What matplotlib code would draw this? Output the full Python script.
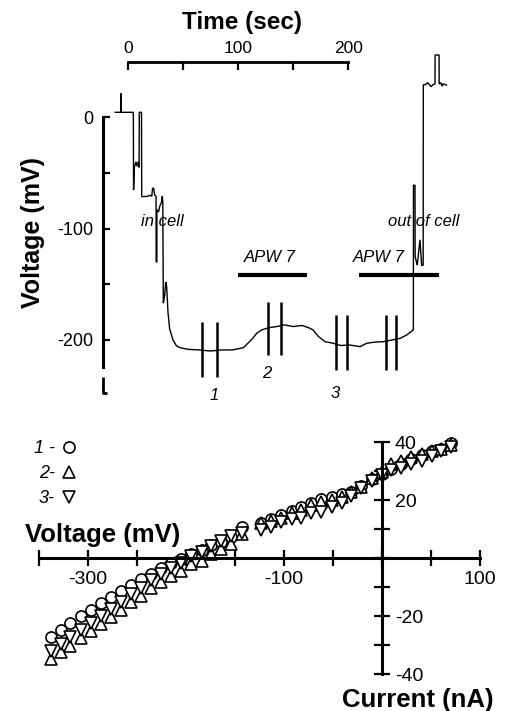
import matplotlib
matplotlib.use("Agg")
import matplotlib.pyplot as plt

plt.rcParams['font.family'] = ['Liberation Sans', 'DejaVu Sans']

# ---------------- top panel data: membrane voltage trace ----------------
trace_t = [-11.4, -6.3, -6.3, -6.2, 5.1, 5.3, 6.0, 7.5, 8.5, 9.5, 10.3, 10.5, 12.5,
           12.7, 18, 20, 21.8, 22.5, 23.5, 24.5, 25.7, 25.8, 26.4, 26.5, 28, 29,
           30.8, 31.3, 31.8, 32.3, 33.5, 34.5, 35.3, 36.5, 38, 41, 44, 47.4, 55,
           65, 75, 85, 95, 100, 104.8, 109, 113, 117, 121.5, 128, 135, 142, 150,
           158, 164, 168, 173, 179, 186.4, 193, 201.5, 210.6, 216.7, 224, 231.7,
           240, 246.9, 252.9, 259, 259.1, 260.5, 260.6, 262.5, 265, 266.5, 267.9,
           268, 270, 272, 274, 275, 277, 278.6, 278.7, 282.3, 282.4, 284, 285, 286, 289]
trace_v = [4.5, 4.5, 21.6, 4.5, 4.5, -65.3, -45, -40, -44, -40, -45, 4.5, 4.5,
           -71.3, -71, -70, -71, -64, -63.5, -70, -71, -130, -130, -83, -85, -80,
           -76, -71, -76, -167, -160, -148, -152, -175, -190, -200, -205, -207, -208.5,
           -209, -210, -209, -209, -208, -207, -203, -199, -194, -191, -189, -188, -186.5, -188,
           -187, -189, -191, -197, -201.6, -203, -205, -204.6, -206, -203, -202, -201.6,
           -200, -198.6, -195.6, -191, -61, -61, -125, -133, -110, -133, -133,
           29, 29.5, 31, 29, 27.5, 29.5, 30, 56, 56, 30, 31, 28, 30, 29]

# I-V measurement periods (double vertical deflections)
iv_times = [67, 80.6, 127, 139, 188.5, 198.5, 233.9, 243]
iv_top = [-183.6, -183.6, -165.6, -165.6, -177.6, -177.6, -177.6, -177.6]
iv_bottom = [-233, -233, -213.5, -213.5, -227, -227, -227, -227]

# APW 7 application periods
apw_start = [100.3, 210.0]
apw_end = [162.3, 282.5]

time_ticks = [0, 50, 100, 150, 200]
time_ticklabels = ['0', '', '100', '', '200']
volt_ticks = [0, -50, -100, -150, -200]
volt_ticklabels = ['0', '', '-100', '', '-200']

# ---------------- bottom panel data: I-V relations ----------------
current = [-338, -328, -318, -307, -297, -287, -276, -266, -256, -246, -236, -225,
           -215, -205, -195, -184, -174, -164, -154, -143, -123, -113, -103, -92,
           -82, -72, -62, -51, -41, -31, -21, -10, 0, 10, 20, 30, 41, 51, 61, 71]
v1 = [-27.2, -24.7, -22.4, -20.0, -17.7, -15.5, -13.5, -11.3, -9.3, -7.3, -5.3, -3.4,
      -1.7, -0.3, 1.4, 2.9, 4.6, 5.7, 7.2, 10.7, 12.3, 13.4, 14.9, 16.3,
      17.8, 19.0, 20.3, 21.2, 22.1, 23.0, 24.9, 27.3, 29.1, 30.8, 32.5, 34.2, 35.6, 36.9, 37.8, 39.7]
v2 = [-34.7, -32.4, -30.1, -27.5, -25.0, -22.7, -20.4, -17.8, -15.2, -12.9, -10.3, -8.3,
      -6.0, -4.3, -2.0, -0.8, 1.5, 3.2, 5.0, 8.3, 12.3, 13.0, 13.8, 15.5,
      16.7, 18.4, 19.5, 20.1, 21.2, 23.0, 24.7, 27.6, 29.9, 32.5, 33.6, 34.8, 36.0, 37.0, 37.6, 39.1]
v3 = [-31.9, -29.6, -27.3, -24.7, -22.2, -19.9, -17.6, -15.0, -12.4, -10.1, -7.5, -5.5,
      -3.2, -1.5, 0.8, 2.0, 4.3, 6.0, 7.6, 8.6, 9.8, 10.9, 12.5, 13.5,
      13.8, 15.5, 16.1, 17.8, 19.2, 21.5, 24.1, 26.5, 28.8, 30.5, 31.3, 32.5, 33.6, 35.2, 37.0, 38.3]
series_labels = ['1 -', '2-', '3-']

cur_ticks = [-350, -300, -250, -200, -150, -100, -50, 0, 50, 100]
cur_ticklabels = ['', '-300', '', '', '', '-100', '', '', '', '100']
iv_vticks = [-40, -30, -20, -10, 0, 10, 20, 30, 40]
iv_vticklabels = ['-40', '', '-20', '', '', '', '20', '', '40']

# ---------------- figure ----------------
W, H = 506, 711
fig = plt.figure(figsize=(W / 100, H / 100), dpi=100)

# ===== top panel =====
ax = fig.add_axes([0, 0, 1, 1])
ax.patch.set_alpha(0)
ax.set_xlim(-115.8, 343.0)
ax.set_ylim(-533.4, 105.4)

ax.plot(trace_t, trace_v, color='black', lw=1.0, solid_joinstyle='miter')
ax.vlines(iv_times, iv_bottom, iv_top, color='black', lw=1.8)
ax.hlines([-141.7] * len(apw_start), apw_start, apw_end, color='black', lw=3.0)

for s in ['bottom', 'right']:
    ax.spines[s].set_visible(False)
ax.spines['top'].set_position(('data', 49.7))
ax.spines['top'].set_bounds(0, 200)
ax.spines['top'].set_linewidth(2.0)
ax.spines['left'].set_position(('data', -22.7))
ax.spines['left'].set_bounds(-224, 0)
ax.spines['left'].set_linewidth(2.2)
ax.xaxis.tick_top()
ax.set_xticks(time_ticks)
ax.set_xticklabels(time_ticklabels)
ax.tick_params(axis='x', direction='in', length=6, width=1.6, pad=4, labelsize=12.5)
ax.set_yticks(volt_ticks)
ax.set_yticklabels(volt_ticklabels)
ax.tick_params(axis='y', direction='in', length=5, width=1.6, pad=7, labelsize=13)
# small "L" end mark of the voltage axis
ax.plot([-22.7, -22.7, -18.5], [-233, -248, -248], color='black', lw=2.0,
        solid_capstyle='butt')

ax.text(31, -93.8, 'in cell', style='italic', fontsize=12, ha='center', va='center')
ax.text(268.7, -93.8, 'out of cell', style='italic', fontsize=12, ha='center', va='center')
ax.text(129, -126.4, 'APW 7', style='italic', fontsize=12, ha='center', va='center')
ax.text(227.4, -126.4, 'APW 7', style='italic', fontsize=12, ha='center', va='center')
ax.text(78.3, -249.7, '1', style='italic', fontsize=12, ha='center', va='center')
ax.text(126, -230, '2', style='italic', fontsize=12, ha='center', va='center')
ax.text(188, -248, '3', style='italic', fontsize=12, ha='center', va='center')

fig.text(241.7 / W, 1 - 23 / H, 'Time (sec)', fontsize=17.5, fontweight='bold',
         ha='center', va='center')
fig.text(33 / W, 1 - 233 / H, 'Voltage (mV)', fontsize=18, fontweight='bold',
         ha='center', va='center', rotation=90)

# ===== bottom panel =====
bx = fig.add_axes([0, 0, 1, 1])
bx.patch.set_alpha(0)
bx.set_xlim(-389.9, 127.0)
bx.set_ylim(-52.66, 192.5)

mk = dict(ls='none', mfc='white', mec='black', mew=1.2, ms=8, clip_on=False)
h1, = bx.plot(current, v1, marker='o', **mk)
h2, = bx.plot(current, v2, marker='^', **mk)
h3, = bx.plot(current, v3, marker='v', **mk)

bx.spines['top'].set_visible(False)
bx.spines['left'].set_visible(False)
bx.spines['bottom'].set_position(('data', 0))
bx.spines['bottom'].set_bounds(-350, 100)
bx.spines['bottom'].set_linewidth(2.2)
bx.spines['right'].set_position(('data', 0))
bx.spines['right'].set_bounds(-40, 40)
bx.spines['right'].set_linewidth(2.2)
bx.xaxis.tick_bottom()
bx.yaxis.tick_right()
bx.set_xticks(cur_ticks)
bx.set_xticklabels(cur_ticklabels)
bx.set_yticks(iv_vticks)
bx.set_yticklabels(iv_vticklabels)
bx.tick_params(axis='x', direction='inout', length=11, width=1.6, pad=4, labelsize=14)
bx.tick_params(axis='y', direction='inout', length=11, width=1.6, pad=4, labelsize=14)
for lab in bx.get_xticklabels():
    if lab.get_text() == '100':
        lab.set_x(104)

fig.text(102.5 / W, 1 - 535 / H, 'Voltage (mV)', fontsize=18.5, fontweight='bold',
         ha='center', va='center')
fig.text(418 / W, 1 - 700 / H, 'Current (nA)', fontsize=18.5, fontweight='bold',
         ha='center', va='center')

leg = bx.legend([h1, h2, h3], series_labels, markerfirst=False, frameon=False,
                loc='upper left', bbox_to_anchor=(34 / W, 1 - 440 / H),
                bbox_transform=fig.transFigure, handlelength=1.0, handletextpad=0.3,
                labelspacing=0.45, borderaxespad=0, borderpad=0,
                prop={'style': 'italic', 'size': 13})

fig.savefig('out.png', dpi=100)
